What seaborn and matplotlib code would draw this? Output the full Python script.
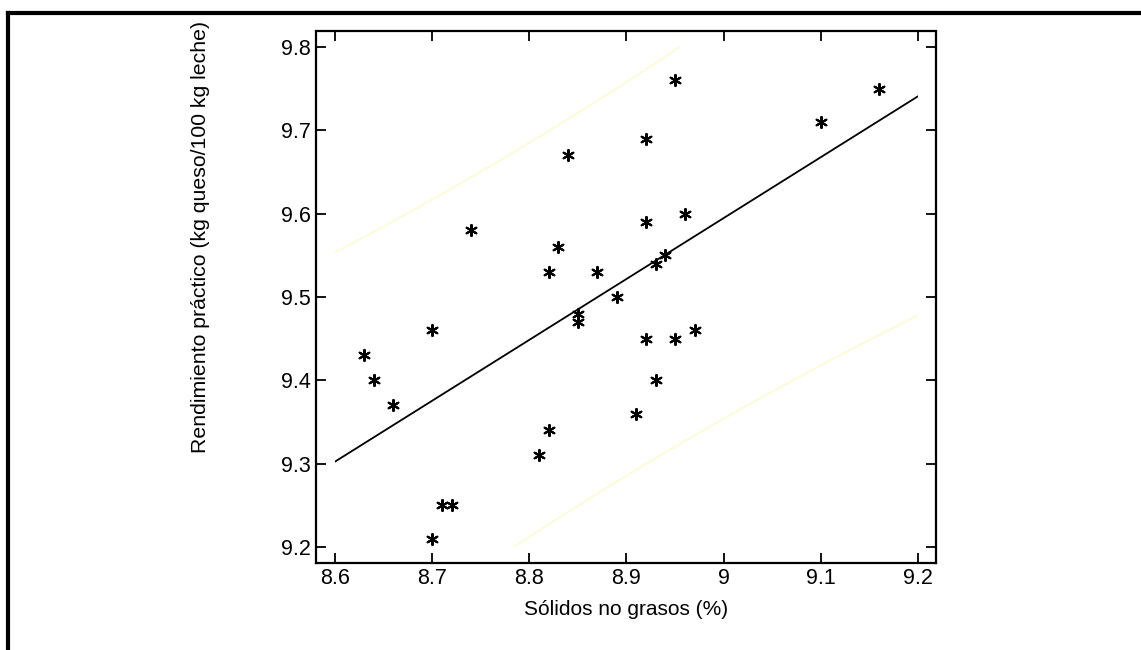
import numpy as np
import pandas as pd
import seaborn as sns
import matplotlib
matplotlib.use("Agg")
import matplotlib.pyplot as plt
from matplotlib.lines import Line2D
from matplotlib.patches import Rectangle

# ---- data ----
solidos = [8.63, 8.64, 8.66, 8.70, 8.70, 8.71, 8.72, 8.74, 8.81, 8.82,
           8.82, 8.83, 8.84, 8.85, 8.85, 8.87, 8.89, 8.91, 8.92, 8.92,
           8.92, 8.93, 8.93, 8.94, 8.95, 8.95, 8.96, 8.97, 9.10, 9.16]
rendimiento = [9.43, 9.40, 9.37, 9.46, 9.21, 9.25, 9.25, 9.58, 9.31, 9.34,
               9.53, 9.56, 9.67, 9.48, 9.47, 9.53, 9.50, 9.36, 9.69, 9.59,
               9.45, 9.54, 9.40, 9.55, 9.76, 9.45, 9.60, 9.46, 9.71, 9.75]
x_ticks = [8.6, 8.7, 8.8, 8.9, 9.0, 9.1, 9.2]
x_tick_labels = ["8.6", "8.7", "8.8", "8.9", "9", "9.1", "9.2"]
y_ticks = [9.2, 9.3, 9.4, 9.5, 9.6, 9.7, 9.8]
y_tick_labels = ["9.2", "9.3", "9.4", "9.5", "9.6", "9.7", "9.8"]
t_95 = 2.048  # t(0.975, df=28)

df = pd.DataFrame({"x": solidos, "y": rendimiento})

# regression & 95% prediction limits computed from the data
x = np.asarray(solidos)
y = np.asarray(rendimiento)
n = len(x)
b, a = np.polyfit(x, y, 1)
resid = y - (a + b * x)
s = np.sqrt(np.sum(resid ** 2) / (n - 2))
sxx = np.sum((x - x.mean()) ** 2)
xg = np.linspace(x_ticks[0], x_ticks[-1], 301)
yg = a + b * xg
half = t_95 * s * np.sqrt(1 + 1 / n + (xg - x.mean()) ** 2 / sxx)
fit_df = pd.DataFrame({"x": xg, "fit": yg, "lo": yg - half, "hi": yg + half})

sns.set_theme(style="white")
plt.rcParams["font.family"] = ["Liberation Sans", "DejaVu Sans"]

fig = plt.figure(figsize=(11.41, 6.5), dpi=100)
ax = fig.add_axes([316 / 1141, 1 - 562.7 / 650, 620 / 1141, 531.7 / 650])

clip = Rectangle((x_ticks[0], y_ticks[0]), x_ticks[-1] - x_ticks[0],
                 y_ticks[-1] - y_ticks[0], transform=ax.transData)

for col, colr, lw in [("hi", "#fcfbdc", 1.5), ("lo", "#fcfbdc", 1.5), ("fit", "black", 1.3)]:
    sns.lineplot(data=fit_df, x="x", y=col, ax=ax, color=colr, lw=lw, legend=False)
for line in ax.lines:
    line.set_clip_path(clip)

sns.scatterplot(data=df, x="x", y="y", ax=ax, marker=(6, 2, 0), s=64,
                color="black", linewidth=1.5, legend=False, zorder=5)

ax.set_xlim(8.5805, 9.2185)
ax.set_ylim(9.181, 9.819)
ax.set_xticks(x_ticks)
ax.set_xticklabels(x_tick_labels)
ax.set_yticks(y_ticks)
ax.set_yticklabels(y_tick_labels)
ax.tick_params(direction="in", length=7.5, width=1.3, color="black",
               top=True, right=True, bottom=True, left=True,
               labelsize=15.5, labelcolor="black", pad=4)
for sp in ax.spines.values():
    sp.set_visible(True)
    sp.set_color("black")
    sp.set_linewidth(1.6)
    sp.set_linestyle((0, (1, 1)))

ax.set_xlabel("Sólidos no grasos (%)", fontsize=15, color="black", labelpad=8)
ax.set_ylabel("Rendimiento práctico (kg queso/100 kg leche)", fontsize=15.3, color="black")
ax.yaxis.set_label_coords(-0.171, 0.612)
ax.grid(False)

# outer frame (top and left visible)
fig.add_artist(Line2D([8 / 1141, 1], [1 - 13 / 650, 1 - 13 / 650],
                      transform=fig.transFigure, color="black", lw=3, solid_capstyle="projecting"))
fig.add_artist(Line2D([8 / 1141, 8 / 1141], [0, 1 - 13 / 650],
                      transform=fig.transFigure, color="black", lw=3, solid_capstyle="projecting"))

fig.savefig("out.png", dpi=100, facecolor="white")
